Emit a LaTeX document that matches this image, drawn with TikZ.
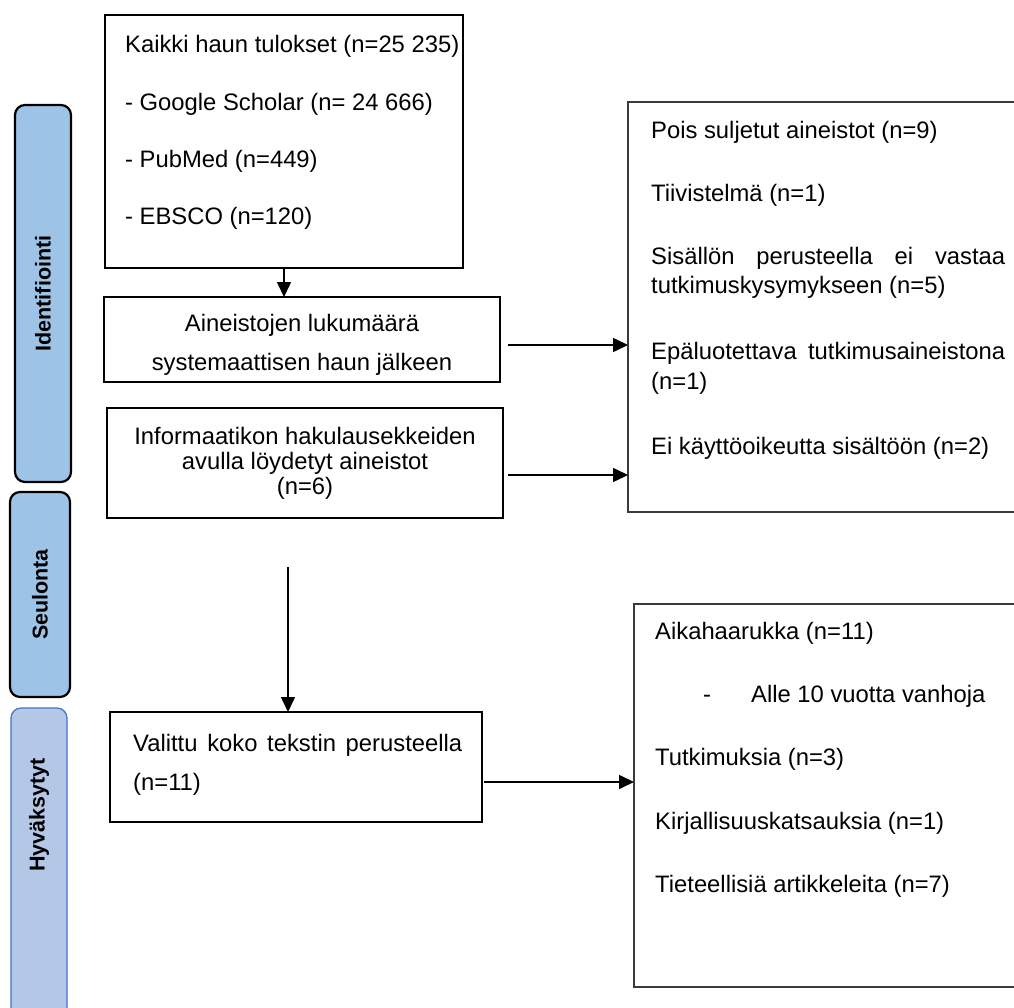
\documentclass[tikz,border=0pt]{standalone}
\usepackage{fontspec}
\setmainfont{Liberation Sans}
\usetikzlibrary{arrows.meta}
\definecolor{barblue}{HTML}{9DC3E6}
\definecolor{barblue2}{HTML}{B4C7E7}
\definecolor{barline2}{HTML}{4472C4}
\definecolor{rbline}{HTML}{3A3A3A}
\begin{document}
\begin{tikzpicture}[x=1pt,y=-1pt,
  flowbox/.style={draw=black,line width=2.6pt,inner sep=0pt,outer sep=0pt,anchor=north west},
  sidebox/.style={draw=rbline,line width=2.2pt,inner sep=0pt,outer sep=0pt,anchor=north west},
  sidebox2/.style={draw=rbline,line width=1.6pt,inner sep=0pt,outer sep=0pt,anchor=north west},
  phase/.style={draw=black,line width=2.2pt,fill=barblue,rounded corners=10pt,inner sep=0pt,outer sep=0pt,anchor=north west},
  phase2/.style={draw=barline2,line width=1.2pt,fill=barblue2,rounded corners=10pt,inner sep=0pt,outer sep=0pt,anchor=north west},
  phasetxt/.style={rotate=90,inner sep=0pt,font=\fontsize{21.5}{24}\selectfont\bfseries},
  txt/.style={anchor=base west,inner sep=0pt,font=\fontsize{23.8}{29}\selectfont},
  ctxt/.style={anchor=base,inner sep=0pt,font=\fontsize{23.8}{29}\selectfont},
  arr/.style={line width=1.6pt,-{Triangle[length=15pt,width=14pt]}}]
\useasboundingbox (0,0) rectangle (1014,1008);
\clip (0,0) rectangle (1014,1008);
\fill[white] (0,0) rectangle (1014,1008);

% phase bars
\node[phase, minimum width=56pt, minimum height=377pt] (pid) at (15,105) {};
\node[phasetxt] (pidt) at (pid.center) {Identifiointi};
\node[phase, minimum width=60pt, minimum height=205pt] (pse) at (10,492) {};
\node[phasetxt] (pset) at (pse.center) {Seulonta};
\node[phase2, minimum width=56pt, minimum height=330pt] (phy) at (11,708) {};
\node[phasetxt] (phyt) at (39,815) {Hyväksytyt};

% box 1
\node[flowbox, minimum width=358pt, minimum height=253pt] (b1) at (105,15) {};
\node[txt] (b1a) at (125,53) {Kaikki haun tulokset (n=25 235)};
\node[txt] (b1b) at (125,111) {- Google Scholar (n= 24 666)};
\node[txt] (b1c) at (125,168) {- PubMed (n=449)};
\node[txt] (b1d) at (125,225) {- EBSCO (n=120)};

% box 2
\node[flowbox, minimum width=396pt, minimum height=85pt] (b2) at (104,297) {};
\node[ctxt] (b2a) at (302,331) {Aineistojen lukumäärä};
\node[ctxt] (b2b) at (302,370) {systemaattisen haun jälkeen};

% box 3
\node[flowbox, minimum width=396pt, minimum height=110pt] (b3) at (107,408) {};
\node[ctxt] (b3a) at (305,444) {Informaatikon hakulausekkeiden};
\node[ctxt] (b3b) at (305,469) {avulla löydetyt aineistot};
\node[ctxt] (b3c) at (305,494) {(n=6)};

% box 4
\node[flowbox, minimum width=372pt, minimum height=110pt] (b4) at (110,712) {};
\node[txt] (b4a) at (133,751) {\hbox to 329pt{Valittu\hfill koko\hfill tekstin\hfill perusteella}};
\node[txt] (b4b) at (133,790) {(n=11)};

% right box 1
\node[sidebox, minimum width=420pt, minimum height=410pt] (r1) at (628,102) {};
\node[txt] (r1a) at (651,139) {Pois suljetut aineistot (n=9)};
\node[txt] (r1b) at (651,202) {Tiivistelmä (n=1)};
\node[txt] (r1c) at (651,265) {\hbox to 354pt{Sisällön\hfill perusteella\hfill ei\hfill vastaa}};
\node[txt] (r1d) at (651,294) {tutkimuskysymykseen (n=5)};
\node[txt] (r1e) at (651,359) {\hbox to 354pt{Epäluotettava\hfill tutkimusaineistona}};
\node[txt] (r1f) at (651,389) {(n=1)};
\node[txt] (r1g) at (651,454) {Ei käyttöoikeutta sisältöön (n=2)};

% right box 2
\node[sidebox2, minimum width=420pt, minimum height=383pt] (r2) at (634,604) {};
\node[txt] (r2a) at (655,639) {Aikahaarukka (n=11)};
\node[txt] (r2b) at (703,702) {-};
\node[txt] (r2c) at (751,702) {Alle 10 vuotta vanhoja};
\node[txt] (r2d) at (655,765) {Tutkimuksia (n=3)};
\node[txt] (r2e) at (655,829) {Kirjallisuuskatsauksia (n=1)};
\node[txt] (r2f) at (655,892) {Tieteellisiä artikkeleita (n=7)};

% connectors
\coordinate (s1) at (508,345);
\coordinate (s2) at (508,475);
\coordinate (s3) at (288,567);
\coordinate (s4) at (484,782);
\draw[arr] (b1.south) -- (b1.south |- b2.north);
\draw[arr] (s1) -- (s1 -| r1.west);
\draw[arr] (s2) -- (s2 -| r1.west);
\draw[arr] (s3) -- (s3 |- b4.north);
\draw[arr] (s4) -- (s4 -| r2.west);
\end{tikzpicture}
\end{document}
